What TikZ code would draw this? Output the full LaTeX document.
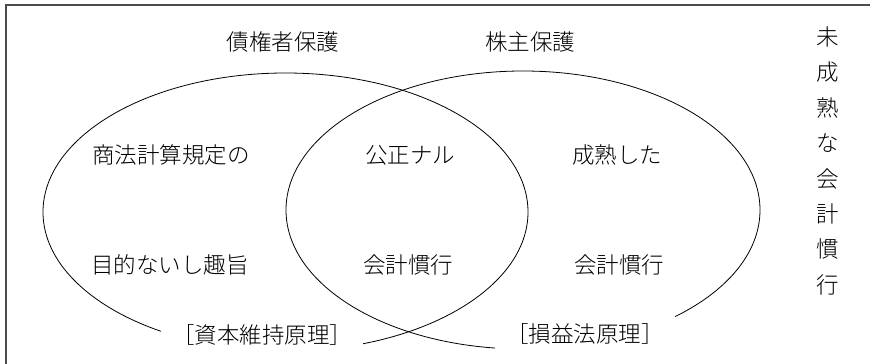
\documentclass[tikz,border=0pt]{standalone}
\usepackage{fontspec}
\newfontfamily\cjk{Noto Sans CJK JP}[UprightFont={* Light}]
\begin{document}
\begin{tikzpicture}[x=1pt,y=-1pt,
  lbl/.style={font=\cjk\fontsize{22.5}{27}\selectfont, inner sep=0pt},
  brk/.style={lbl, fill=white, inner xsep=11pt, inner ysep=9pt},
  oval/.style={draw=black, line width=0.8pt},
  frame/.style={draw=black!70, line width=1.3pt}]
\useasboundingbox (0,0) rectangle (870,364);
% partial frame
\coordinate (ftl) at (6,5);
\coordinate (ftr) at (870,5);
\coordinate (fbl) at (6,364);
\draw[frame] (ftr) -- (ftl) -- (fbl);
% ellipses
\draw[oval] (285.5,212) ellipse [x radius=242.5pt, y radius=139pt];
\draw[oval] (523,210) ellipse [x radius=237pt, y radius=139pt];
% labels
\node[lbl] (cred) at (283,42) {債権者保護};
\node[lbl] (share) at (530,42) {株主保護};
\node[lbl] (l1) at (171,155) {商法計算規定の};
\node[lbl] (l2) at (170,265) {目的ないし趣旨};
\node[lbl] (m1) at (410,155) {公正ナル};
\node[lbl] (m2) at (408,265) {会計慣行};
\node[lbl] (r1) at (617,155) {成熟した};
\node[lbl] (r2) at (619,265) {会計慣行};
\node[brk] (cap) at (262,335) {［資本維持原理］};
\node[brk] (pl) at (585,334) {［損益法原理］};
\node[lbl, align=center, font=\cjk\fontsize{22.5}{35.4}\selectfont] (vert) at (828,161)
  {未\\成\\熟\\な\\会\\計\\慣\\行};
\end{tikzpicture}
\end{document}
